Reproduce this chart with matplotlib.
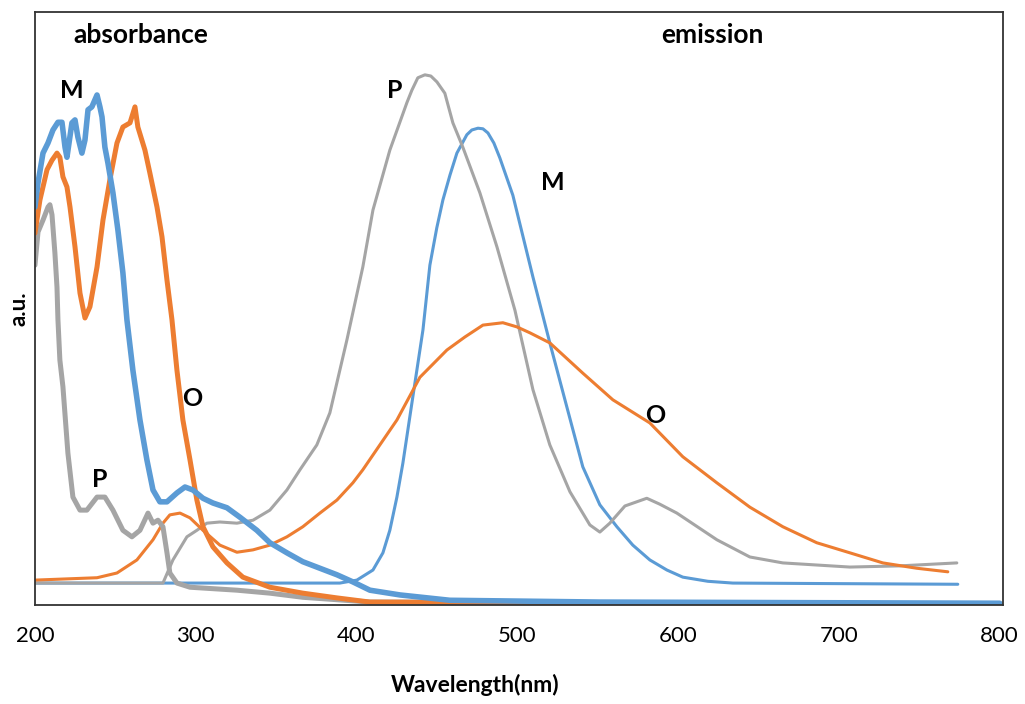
import matplotlib
matplotlib.use("Agg")
import matplotlib.pyplot as plt

plt.rcParams['font.family'] = ['Lato', 'DejaVu Sans']

blue = '#5B9BD5'
orange = '#ED7D31'
gray = '#A5A5A5'

# absorbance spectra (thick lines)
abs_m_x = [200, 201.9, 205.0, 208.1, 211.2, 214.3, 216.8, 218.7, 219.9, 223.0, 224.9, 226.7,
           229.2, 231.1, 233.0, 235.4, 238.6, 240.4, 241.7, 243.5, 245.4, 248.5, 251.6, 254.7,
           257.2, 260.9, 265.3, 269.6, 273.4, 277.7, 282.1, 288.3, 293.3, 298.2, 304.5, 310.7,
           319.4, 327.5, 338.0, 346.1, 356.7, 366.6, 377.2, 387.8, 397.7, 408.3, 427.0, 458.0,
           551.3, 800]
abs_m_y = [0.671, 0.712, 0.762, 0.779, 0.801, 0.814, 0.814, 0.772, 0.755, 0.813, 0.818, 0.789,
           0.762, 0.784, 0.835, 0.840, 0.860, 0.840, 0.823, 0.772, 0.745, 0.695, 0.632, 0.560,
           0.481, 0.396, 0.312, 0.245, 0.194, 0.174, 0.174, 0.189, 0.199, 0.194, 0.180, 0.172,
           0.164, 0.148, 0.126, 0.105, 0.088, 0.073, 0.062, 0.051, 0.039, 0.025, 0.017, 0.008,
           0.005, 0.003]

abs_o_x = [200, 203.1, 207.5, 210.6, 213.7, 215.5, 217.4, 219.9, 221.8, 224.9, 228.0, 231.1,
           234.2, 238.6, 242.3, 246.6, 251.0, 254.7, 259.1, 262.2, 264.0, 268.4, 271.5, 275.9,
           279.0, 282.1, 285.2, 288.3, 292.0, 296.4, 300.7, 304.5, 310.7, 319.4, 329.3, 346.1,
           366.6, 387.8, 408.3, 800]
abs_o_y = [0.627, 0.683, 0.734, 0.750, 0.762, 0.755, 0.722, 0.705, 0.671, 0.604, 0.526, 0.484,
           0.503, 0.570, 0.649, 0.717, 0.779, 0.806, 0.813, 0.840, 0.806, 0.767, 0.728, 0.671,
           0.621, 0.548, 0.481, 0.396, 0.312, 0.245, 0.177, 0.132, 0.098, 0.071, 0.047, 0.030,
           0.020, 0.012, 0.005, 0.002]

abs_p_x = [200, 201.9, 205.0, 208.1, 209.3, 210.6, 212.4, 213.7, 214.3, 215.5, 217.4, 220.5,
           223.6, 228.0, 232.3, 238.6, 243.5, 248.5, 254.7, 260.3, 265.3, 270.3, 273.4, 276.5,
           279.6, 282.1, 283.9, 288.3, 296.4, 325.6, 346.1, 366.6, 408.3, 800]
abs_p_y = [0.573, 0.629, 0.649, 0.671, 0.675, 0.658, 0.594, 0.536, 0.481, 0.413, 0.368, 0.256,
           0.182, 0.160, 0.160, 0.182, 0.182, 0.160, 0.126, 0.115, 0.126, 0.155, 0.138, 0.143,
           0.132, 0.088, 0.054, 0.037, 0.030, 0.025, 0.020, 0.013, 0.005, 0.002]

# emission spectra (thin lines)
em_m_x = [200, 389.6, 400.2, 410.2, 416.4, 420.7, 425.1, 428.8, 435.0, 441.3, 445.6, 449.9,
          453.7, 458.1, 462.4, 468.6, 471.7, 475.5, 478.6, 481.7, 485.4, 489.1, 497.2, 509.7,
          520.2, 529.6, 540.7, 551.3, 561.9, 571.8, 582.4, 593.0, 602.9, 618.5, 634.0, 773.9]
em_m_y = [0.037, 0.037, 0.042, 0.059, 0.088, 0.126, 0.182, 0.239, 0.351, 0.464, 0.573, 0.636,
          0.683, 0.725, 0.762, 0.793, 0.801, 0.804, 0.803, 0.796, 0.779, 0.754, 0.691, 0.553,
          0.442, 0.346, 0.233, 0.169, 0.132, 0.101, 0.076, 0.059, 0.047, 0.040, 0.037, 0.035]

em_o_x = [200, 238.6, 251.0, 263.4, 273.4, 279.6, 283.9, 290.2, 296.4, 304.5, 315.0, 325.6,
          335.6, 346.1, 356.7, 366.6, 377.2, 387.8, 397.7, 403.9, 414.5, 425.1, 439.4, 456.2,
          467.4, 478.6, 491.0, 499.7, 507.8, 520.2, 540.7, 559.4, 582.4, 602.9, 624.1, 644.6,
          665.1, 686.2, 706.8, 727.3, 748.4, 767.7]
em_o_y = [0.042, 0.046, 0.054, 0.076, 0.110, 0.138, 0.152, 0.155, 0.147, 0.126, 0.101, 0.089,
          0.093, 0.101, 0.115, 0.132, 0.155, 0.177, 0.206, 0.228, 0.270, 0.312, 0.384, 0.430,
          0.452, 0.472, 0.476, 0.469, 0.459, 0.442, 0.391, 0.346, 0.307, 0.250, 0.206, 0.165,
          0.132, 0.105, 0.088, 0.071, 0.062, 0.056]

em_p_x = [200, 279.6, 285.8, 294.5, 300.7, 306.9, 315.0, 325.6, 335.6, 346.1, 356.7, 364.8,
          375.3, 383.4, 394.0, 403.9, 410.2, 420.7, 431.3, 434.4, 438.1, 442.5, 446.2, 450.0,
          454.9, 459.9, 466.1, 476.7, 487.3, 498.5, 509.7, 520.2, 532.7, 545.1, 551.3, 557.5,
          566.9, 580.5, 588.6, 599.2, 624.1, 644.6, 665.1, 706.8, 737.9, 773.3]
em_p_y = [0.037, 0.037, 0.076, 0.115, 0.126, 0.138, 0.140, 0.138, 0.143, 0.160, 0.194, 0.228,
          0.270, 0.324, 0.447, 0.570, 0.666, 0.767, 0.847, 0.868, 0.889, 0.894, 0.892, 0.882,
          0.863, 0.813, 0.772, 0.695, 0.604, 0.497, 0.363, 0.270, 0.191, 0.135, 0.123, 0.138,
          0.167, 0.180, 0.170, 0.155, 0.110, 0.081, 0.071, 0.064, 0.066, 0.071]

fig = plt.figure(figsize=(10.25, 7.04), dpi=100)
ax = fig.add_axes([0.0341, 0.1406, 0.9444, 0.8424])

thin = dict(lw=2.2, solid_joinstyle='round', solid_capstyle='round')
thick = dict(lw=3.6, solid_joinstyle='round', solid_capstyle='round')
ax.plot(em_m_x, em_m_y, color=blue, **thin)
ax.plot(em_p_x, em_p_y, color=gray, **thin)
ax.plot(em_o_x, em_o_y, color=orange, **thin)
ax.plot(abs_p_x, abs_p_y, color=gray, **thick)
ax.plot(abs_o_x, abs_o_y, color=orange, **thick)
ax.plot(abs_m_x, abs_m_y, color=blue, lw=4.0, solid_joinstyle='round', solid_capstyle='round')

ax.set_xlim(200, 802)
ax.set_ylim(0, 1)
ax.set_xticks([200, 300, 400, 500, 600, 700, 800])
ax.set_yticks([])
ax.tick_params(axis='x', length=0, pad=15, labelsize=16)
for s in ax.spines.values():
    s.set_color('#333333')
    s.set_linewidth(1.3)

ax.set_xlabel('Wavelength(nm)', fontsize=16.5, fontweight='bold', labelpad=20, x=0.455)
ax.set_ylabel('a.u.', fontsize=16, fontweight='bold', labelpad=4)

word = dict(fontsize=19, fontweight='bold', ha='center', va='center')
lab = dict(fontsize=18, fontweight='bold', ha='center', va='center')
ax.text(265.9, 0.961, 'absorbance', **word)
ax.text(621, 0.961, 'emission', **word)
ax.text(223, 0.868, 'M', **lab)
ax.text(297.6, 0.349, 'O', **lab)
ax.text(240.4, 0.211, 'P', **lab)
ax.text(423.8, 0.868, 'P', **lab)
ax.text(522, 0.713, 'M', **lab)
ax.text(586, 0.320, 'O', **lab)

fig.savefig('out.png', dpi=100)
